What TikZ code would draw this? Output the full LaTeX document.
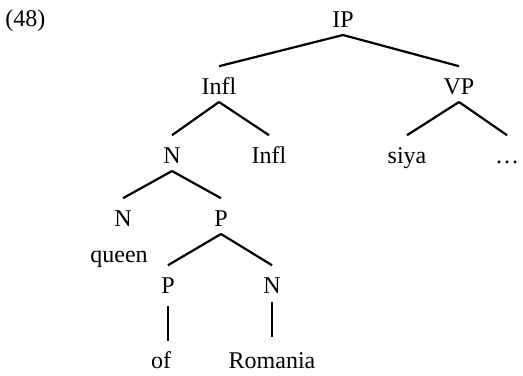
\documentclass[tikz,border=0pt]{standalone}
\usepackage{fontspec}
\setmainfont{Liberation Serif}
\tikzset{
  lab/.style={anchor=south, inner sep=0pt, text height=8pt, text depth=0pt,
              font=\fontsize{12}{14}\selectfont},
  branch/.style={line width=1.1pt},
}
% branch from the bottom of one label to the top of the next
\newcommand{\branchline}[2]{\draw[branch] ([yshift=-3.5pt]#1.south) -- ([yshift=6pt]#2.north);}
\begin{document}
\begin{tikzpicture}[x=0.5pt,y=-0.5pt]
\useasboundingbox (0,0) rectangle (523,375);
{
% Marking example number
\node[lab, anchor=south west] (num) at (5,27) {(48)};

% Marking labels of level 0 and 1
\node[lab] (IP) at (343,28) {IP};
\node[lab] (Infl) at (219,95) {Infl};
\node[lab] (VP) at (459,95) {VP};

% Marking labels of level 2
\node[lab] (Nhead) at (172,164) {N};
\node[lab] (Inflb) at (269,164) {Infl};
\node[lab] (siya) at (407,164) {siya};
\node[lab] (dots) at (507,164) {\ldots};

% Marking labels of level 3
\node[lab] (Nleft) at (123,227) {N};
\node[lab] (Pphr) at (221,227) {P};
\node[lab] (queen) at (119,263) {queen};

% Marking labels of level 4
\node[lab] (Pword) at (168,294) {P};
\node[lab] (Nword) at (272,294) {N};

% Marking words
\node[lab] (of) at (161,369) {of};
\node[lab] (Romania) at (272,369) {Romania};

% Drawing branches
\branchline{IP}{Infl}
\branchline{IP}{VP}
\branchline{Infl}{Nhead}
\branchline{Infl}{Inflb}
\branchline{VP}{siya}
\branchline{VP}{dots}
\branchline{Nhead}{Nleft}
\branchline{Nhead}{Pphr}
\branchline{Pphr}{Pword}
\branchline{Pphr}{Nword}

% Drawing unary branches
\draw[branch] ([yshift=-6pt]Pword.south) -- ([yshift=5.5pt]Pword.south |- of.north);
\draw[branch] ([yshift=-4pt]Nword.south) -- ([yshift=7.5pt]Nword.south |- Romania.north);
}
\end{tikzpicture}
\end{document}
